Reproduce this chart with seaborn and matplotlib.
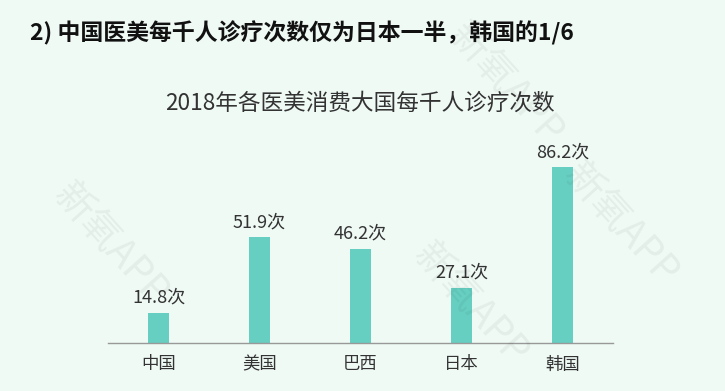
import matplotlib
matplotlib.use("Agg")
import matplotlib.pyplot as plt
import seaborn as sns
import pandas as pd

categories = ["中国", "美国", "巴西", "日本", "韩国"]
values = [14.8, 51.9, 46.2, 27.1, 86.2]
unit = "次"
title = "2) 中国医美每千人诊疗次数仅为日本一半，韩国的1/6"
subtitle = "2018年各医美消费大国每千人诊疗次数"

sns.set_theme(style="white")
plt.rcParams["font.family"] = ["Noto Sans CJK SC", "DejaVu Sans"]

bg = "#effaf5"
bar_color = "#66cfc2"

W, H = 725, 391
fig = plt.figure(figsize=(W / 100, H / 100), dpi=100, facecolor=bg)
ax = fig.add_axes([108 / W, 48 / H, 505 / W, 220 / H])
ax.set_facecolor("none")

df = pd.DataFrame({"cat": categories, "val": values})
sns.barplot(data=df, x="cat", y="val", color=bar_color, width=0.2, ax=ax,
            saturation=1, edgecolor="none")
ax.set_xlim(-0.5, 4.5)
ax.set_ylim(0, 108)

for i, v in enumerate(values):
    ax.text(i, v + 3, f"{v}{unit}", ha="center", va="bottom", fontsize=13, color="#333333")

for s in ["top", "right", "left"]:
    ax.spines[s].set_visible(False)
ax.spines["bottom"].set_color("#999999")
ax.spines["bottom"].set_linewidth(1)
ax.set_yticks([])
ax.set_xlabel("")
ax.set_ylabel("")
ax.tick_params(axis="x", length=0, pad=9, labelsize=12.5, labelcolor="#333333")

fig.text(30 / W, 1 - 33 / H, title, fontsize=16.5, fontweight="bold", color="#111111",
         ha="left", va="center")
fig.text(360 / W, 1 - 103 / H, subtitle, fontsize=16.3, color="#333333",
         ha="center", va="center")

# watermark
wm = "新氧APP"
for (x, y) in [(110, 245), (505, 85), (620, 225), (470, 305)]:
    fig.text(x / W, 1 - y / H, wm, fontsize=28, color="#000000", alpha=0.05,
             rotation=-48, ha="center", va="center", zorder=0)

fig.savefig("out.png", dpi=100, facecolor=bg)
